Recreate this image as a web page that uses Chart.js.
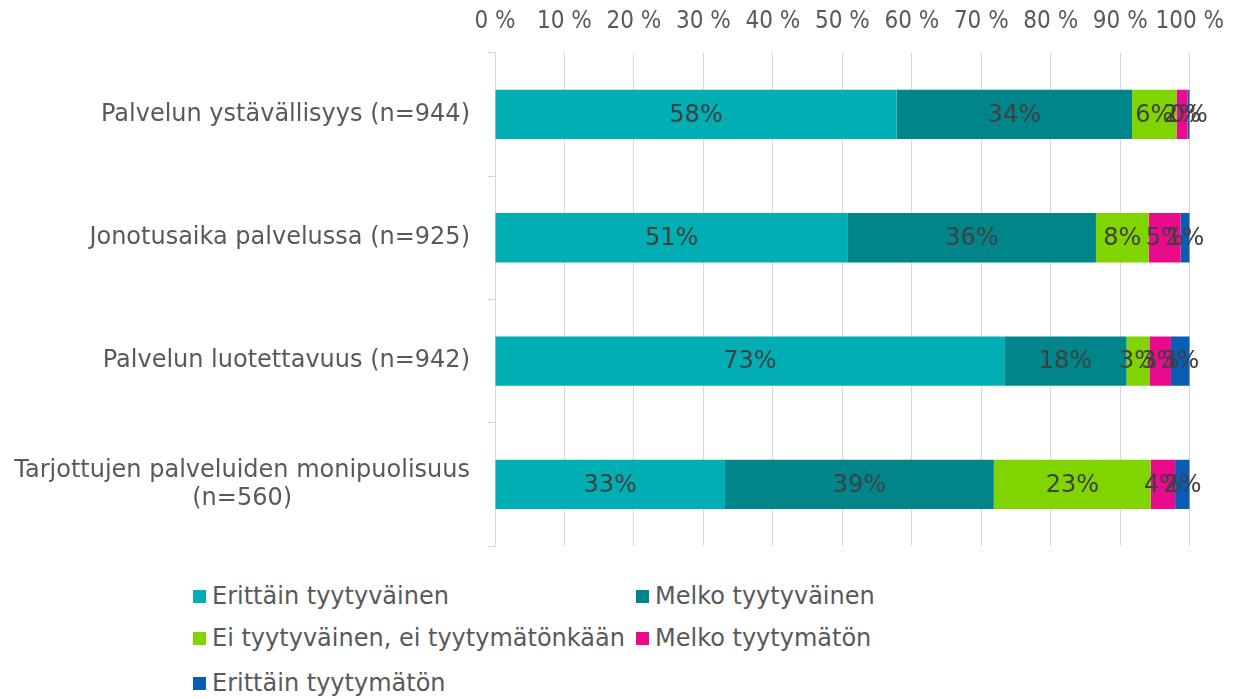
<!DOCTYPE html>
<html lang="fi">
<head>
<meta charset="utf-8">
<title>Tyytyväisyys palveluun</title>
<script src="https://cdn.jsdelivr.net/npm/chart.js@4"></script>
<style>
  body { margin: 0; background: #fff; font-family: "DejaVu Sans", Verdana, sans-serif; }
  #wrap { position: relative; width: 1241px; height: 699px; }
  #chart { position: absolute; left: 0; top: 0; }
  #legend { position: absolute; left: 193px; top: 582px; width: 900px; }
  .item { position: absolute; display: flex; align-items: center; font-size: 24px; color: #595959; white-space: nowrap; }
  .box { width: 13px; height: 13px; margin-right: 6px; }
</style>
</head>
<body>
<div id="wrap">
  <canvas id="chart" width="1241" height="562"></canvas>
  <div id="legend"></div>
</div>
<script>
// kategoriat ja sarjat (prosentteja)
const categories = [
  'Palvelun ystävällisyys (n=944)',
  'Jonotusaika palvelussa (n=925)',
  'Palvelun luotettavuus (n=942)',
  ['Tarjottujen palveluiden monipuolisuus', '(n=560)']
];
const seriesNames = [
  'Erittäin tyytyväinen',
  'Melko tyytyväinen',
  'Ei tyytyväinen, ei tyytymätönkään',
  'Melko tyytymätön',
  'Erittäin tyytymätön'
];
const erittainTyytyvainen = [57.8, 50.8, 73.3, 33.1];
const melkoTyytyvainen = [33.9, 35.7, 17.6, 38.7];
const eiKumpikaan = [6.4, 7.6, 3.3, 22.6];
const melkoTyytymaton = [1.6, 4.6, 3.1, 3.5];
const erittainTyytymaton = [0.3, 1.3, 2.7, 2.1];
const xTicks = [0, 10, 20, 30, 40, 50, 60, 70, 80, 90, 100];

const colors = ['#00AEB3', '#00868A', '#80D400', '#EA0A8C', '#0A5CB5'];
const values = [erittainTyytyvainen, melkoTyytyvainen, eiKumpikaan, melkoTyytymaton, erittainTyytymaton];

const FONT = '"DejaVu Sans", Verdana, sans-serif';

// prosenttiluvut palkkien keskelle
const barLabels = {
  id: 'barLabels',
  afterDatasetsDraw(chart) {
    const ctx = chart.ctx;
    ctx.save();
    ctx.font = '24px ' + FONT;
    ctx.fillStyle = '#404040';
    ctx.textAlign = 'center';
    ctx.textBaseline = 'middle';
    chart.data.datasets.forEach((ds, i) => {
      chart.getDatasetMeta(i).data.forEach((bar, j) => {
        const p = bar.getProps(['x', 'y', 'base'], true);
        ctx.fillText(Math.round(ds.data[j]) + '%', (p.x + p.base) / 2, p.y + 1);
      });
    });
    ctx.restore();
  }
};

// kategorianimet: rivit keskitetty keskenään, lohko oikealle
const catLabels = {
  id: 'catLabels',
  afterDraw(chart) {
    const ctx = chart.ctx;
    const y = chart.scales.y;
    const right = chart.chartArea.left - 25;
    ctx.save();
    ctx.font = '24px ' + FONT;
    ctx.fillStyle = '#595959';
    ctx.textAlign = 'center';
    ctx.textBaseline = 'middle';
    const lineH = 28;
    categories.forEach((c, i) => {
      const lines = Array.isArray(c) ? c : [c];
      const w = Math.max(...lines.map(l => ctx.measureText(l).width));
      const cx = right - w / 2;
      const cy = y.getPixelForValue(i);
      lines.forEach((l, k) => {
        ctx.fillText(l, cx, cy + (k - (lines.length - 1) / 2) * lineH);
      });
    });
    ctx.restore();
  }
};

const chart = new Chart(document.getElementById('chart'), {
  type: 'bar',
  data: {
    labels: categories.map(c => Array.isArray(c) ? c.join(' ') : c),
    datasets: seriesNames.map((name, i) => ({
      label: name,
      data: values[i],
      backgroundColor: colors[i],
      borderWidth: 0,
      categoryPercentage: 1,
      barPercentage: 0.4
    }))
  },
  options: {
    indexAxis: 'y',
    responsive: false,
    animation: false,
    layout: { padding: { left: 488, right: 45, top: -10, bottom: 16 } },
    plugins: {
      legend: { display: false },
      tooltip: { enabled: false }
    },
    scales: {
      x: {
        position: 'top',
        stacked: true,
        min: 0,
        max: 100,
        afterBuildTicks: scale => { scale.ticks = xTicks.map(v => ({ value: v })); },
        ticks: {
          autoSkip: false,
          maxRotation: 0,
          padding: 17,
          color: '#595959',
          font: { family: '"DejaVu Sans Condensed", ' + FONT, size: 24 },
          callback: v => v + ' %'
        },
        grid: { color: '#D9D9D9', drawTicks: false, lineWidth: 1 },
        border: { display: false }
      },
      y: {
        stacked: true,
        ticks: { display: false },
        grid: { drawOnChartArea: false, drawTicks: true, tickLength: 7, color: '#D9D9D9', offset: true },
        border: { display: true, color: '#D9D9D9' }
      }
    }
  },
  plugins: [barLabels, catLabels]
});

// selite kahteen sarakkeeseen
const legend = document.getElementById('legend');
const colX = [0, 443];
const rowY = [0, 42, 87];
chart.data.datasets.forEach((ds, i) => {
  const item = document.createElement('div');
  item.className = 'item';
  item.style.left = colX[i % 2] + 'px';
  item.style.top = rowY[Math.floor(i / 2)] + 'px';
  const box = document.createElement('span');
  box.className = 'box';
  box.style.background = ds.backgroundColor;
  const txt = document.createElement('span');
  txt.textContent = ds.label;
  item.appendChild(box);
  item.appendChild(txt);
  legend.appendChild(item);
});
</script>
</body>
</html>
